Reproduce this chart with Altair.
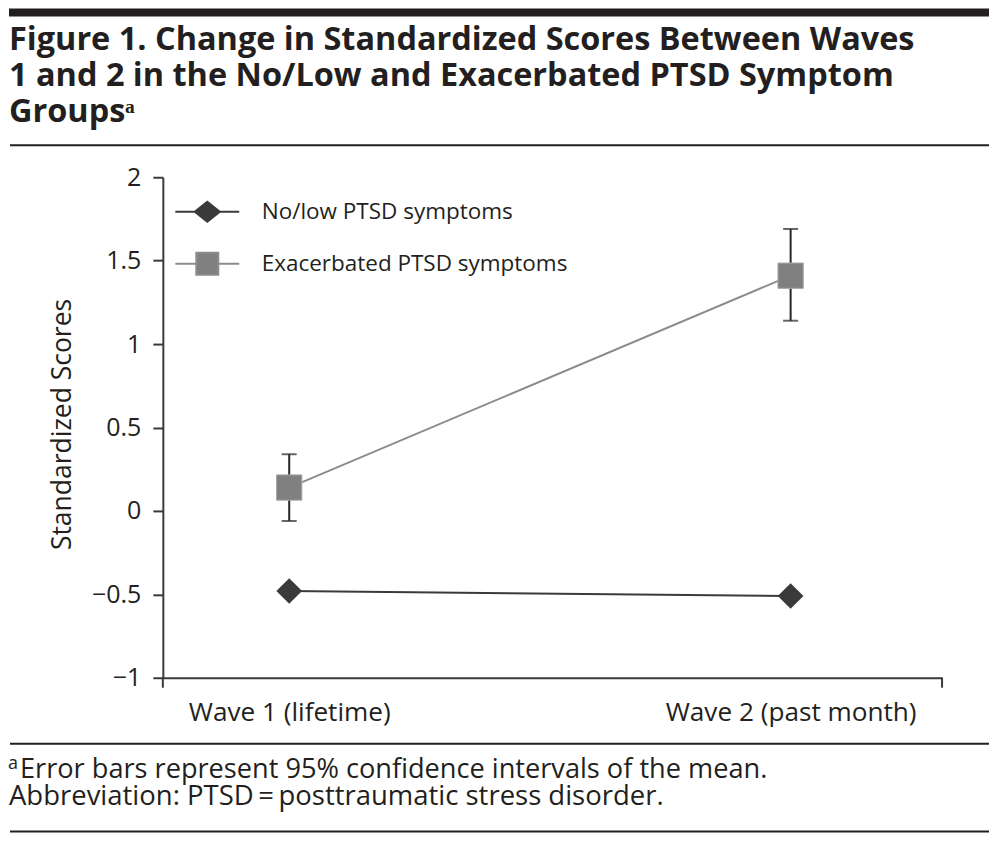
import altair as alt
import pandas as pd

# ---------------- data ----------------
groups = ["No/low PTSD symptoms", "Exacerbated PTSD symptoms"]
waves = [1, 2]
wave_labels = ["Wave 1 (lifetime)", "Wave 2 (past month)"]
nolow_scores = [-0.48, -0.51]
exac_scores = [0.14, 1.41]
exac_ci_low = [-0.06, 1.14]
exac_ci_high = [0.34, 1.69]
y_ticks = [-1, -0.5, 0, 0.5, 1, 1.5, 2]

title_lines = [
    "Figure 1. Change in Standardized Scores Between Waves",
    "1 and 2 in the No/Low and Exacerbated PTSD Symptom",
    "Groups\u1d43",
]
footnote_mark = "a"
footnotes = [
    "Error bars represent 95% confidence intervals of the mean.",
    "Abbreviation: PTSD\u2009=\u2009posttraumatic stress disorder.",
]

rows = []
for w, s in zip(waves, nolow_scores):
    rows.append({"group": groups[0], "wave": w, "score": s, "lo": None, "hi": None})
for w, s, lo, hi in zip(waves, exac_scores, exac_ci_low, exac_ci_high):
    rows.append({"group": groups[1], "wave": w, "score": s, "lo": lo, "hi": hi})
df = pd.DataFrame(rows)

# ---------------- style ----------------
FONT = "Open Sans"
INK = "#231f20"
DARK = "#3a3a3a"
GRAY_FILL = "#808080"
GRAY_LINE = "#8c8c8c"
W, H = 780, 501

label_expr = " : ".join(
    [f"datum.value == {w} ? '{l}'" for w, l in zip(waves[:-1], wave_labels[:-1])]
    + [f"'{wave_labels[-1]}'"]
)

x_scale = alt.Scale(domain=[0.748, 2.302], nice=False, zero=False)
y_scale = alt.Scale(domain=[-1, 2], nice=False, zero=False)

x_axis = alt.Axis(
    values=waves, labelExpr=label_expr, ticks=False, grid=False, title=None,
    domainColor=DARK, domainWidth=2, labelFont=FONT, labelFontSize=26.2,
    labelColor=INK, labelPadding=22, labelFlush=False, labelLimit=0,
)
y_axis = alt.Axis(
    values=y_ticks, format="~g", grid=False, title="Standardized Scores",
    domainColor=DARK, domainWidth=2, tickColor=DARK, tickWidth=2, tickSize=10,
    labelFont=FONT, labelFontSize=25, labelColor=INK, labelPadding=12,
    titleFont=FONT, titleFontSize=26.5, titleFontWeight="normal", titleColor=INK,
    titleX=-100, titleY=247, titleAngle=270, titleAlign="center", titleBaseline="middle",
)

def xenc():
    return alt.X("wave:Q", scale=x_scale, axis=x_axis)

def yenc(field="score"):
    return alt.Y(f"{field}:Q", scale=y_scale, axis=y_axis)

base = alt.Chart(df)

line_nolow = base.transform_filter(alt.datum.group == groups[0]).mark_line(
    color=DARK, strokeWidth=2).encode(x=xenc(), y=yenc())
line_exac = base.transform_filter(alt.datum.group == groups[1]).mark_line(
    color=GRAY_LINE, strokeWidth=2).encode(x=xenc(), y=yenc())

errbars = base.transform_filter("isValid(datum.lo)").mark_errorbar(
    ticks=True, size=15, thickness=2, color="#262626").encode(
    x=xenc(), y=yenc("lo"), y2="hi:Q")

pts_nolow = base.transform_filter(alt.datum.group == groups[0]).mark_point(
    shape="diamond", filled=True, size=660, color=DARK, opacity=1).encode(x=xenc(), y=yenc())
pts_exac = base.transform_filter(alt.datum.group == groups[1]).mark_point(
    shape="square", filled=True, size=640, fill=GRAY_FILL, stroke="#a6a6a6",
    strokeWidth=1, opacity=1).encode(x=xenc(), y=yenc())

# legend (invisible points, symbols drawn by the legend)
legend_paths = [
    "M-2.56,0H-1M1,0H2.56M-1,0L0,-0.8L1,0L0,0.8Z",
    "M-2.56,0H-0.88M0.88,0H2.56M-0.88,-0.88H0.88V0.88H-0.88Z",
]
leg = alt.Legend(
    title=None, orient="none", legendX=31, legendY=21, symbolSize=625,
    symbolStrokeWidth=2, symbolOpacity=1, labelFont=FONT, labelFontSize=22.5,
    labelColor=INK, labelOffset=41, rowPadding=22, padding=0, labelLimit=0,
)
legend_layer = base.mark_point(filled=True, opacity=0).encode(
    x=xenc(), y=yenc(),
    shape=alt.Shape("group:N", scale=alt.Scale(domain=groups, range=legend_paths), legend=leg),
    fill=alt.Fill("group:N", scale=alt.Scale(domain=groups, range=[DARK, GRAY_FILL]), legend=leg),
    stroke=alt.Stroke("group:N", scale=alt.Scale(domain=groups, range=[DARK, GRAY_LINE]), legend=leg),
)

one = alt.Data(values=[{}])

def hrule(y, width, x0=-153, x1=827, color=INK):
    return alt.Chart(one).mark_rule(strokeWidth=width, color=color).encode(
        x=alt.value(x0), x2=alt.value(x1), y=alt.value(y))

def vrule(x, y0, y1):
    return alt.Chart(one).mark_rule(strokeWidth=2, color=DARK).encode(
        x=alt.value(x), y=alt.value(y0), y2=alt.value(y1))

def text(s, x, y, size, weight="normal"):
    return alt.Chart(one).mark_text(
        align="left", baseline="alphabetic", font=FONT, fontSize=size,
        fontWeight=weight, color=INK).encode(
        x=alt.value(x), y=alt.value(y), text=alt.value(s))

top_bar = alt.Chart(one).mark_rect(color=INK).encode(
    x=alt.value(-154), x2=alt.value(827), y=alt.value(-169), y2=alt.value(-161))

decor = [
    top_bar,
    hrule(-32, 2),
    hrule(567, 2),
    hrule(655, 2),
    vrule(0, H, H + 10),
    vrule(W, H, H + 10),
]
titles = [text(t, -154, y, 32.5, "bold") for t, y in zip(title_lines, [-127, -91, -55])]
notes = [text(footnote_mark, -155, 592, 18)] + [
    text(t, -143, y, 27.2) for t, y in zip(footnotes, [601, 628])
]
notes[2] = text(footnotes[1], -154, 628, 27.5)

chart = alt.layer(
    line_nolow, line_exac, errbars, pts_nolow, pts_exac, legend_layer,
    *decor, *titles, *notes,
).properties(width=W, height=H, padding=0, background="white").configure_view(stroke=None)

chart.save("out.html", embed_options={"renderer": "svg", "actions": False})
